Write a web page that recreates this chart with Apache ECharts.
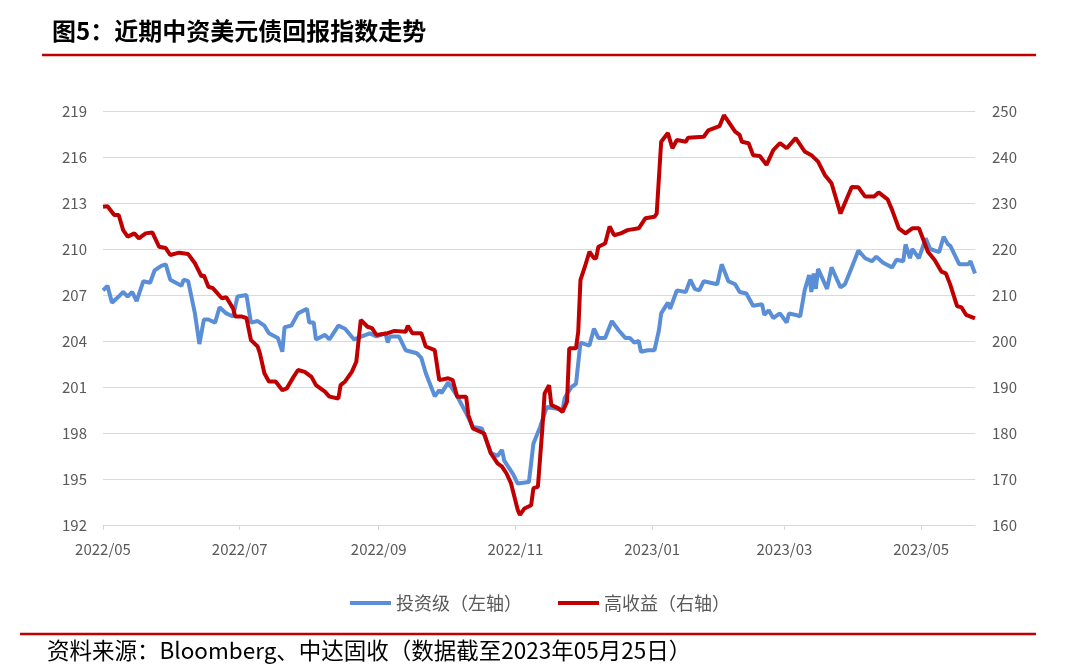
<!DOCTYPE html>
<html>
<head>
<meta charset="utf-8">
<script src="https://cdn.jsdelivr.net/npm/echarts@6/dist/echarts.min.js"></script>
<style>
  html, body { margin: 0; padding: 0; background: #fff; }
  #chart { width: 1080px; height: 668px; }
</style>
</head>
<body>
<div id="chart"></div>
<script>
// ---- Data ----
const titleText = '图5：近期中资美元债回报指数走势';
const sourceText = '资料来源：Bloomberg、中达固收（数据截至2023年05月25日）';
const seriesNames = ['投资级（左轴）', '高收益（右轴）'];
const xTickDates = ['2022-05-01', '2022-07-01', '2022-09-01', '2022-11-01', '2023-01-01', '2023-03-01', '2023-05-01'];
const xMin = '2022-05-01';
const xMax = '2023-05-25';
const leftAxis = { min: 192, max: 219, interval: 3 };
const rightAxis = { min: 160, max: 250, interval: 10 };

// 投资级 (left axis)
const igDates = [
  '2022-05-01','2022-05-03','2022-05-05','2022-05-08','2022-05-10','2022-05-12','2022-05-14','2022-05-16','2022-05-19','2022-05-22',
  '2022-05-24','2022-05-27','2022-05-29','2022-05-31','2022-06-05','2022-06-06','2022-06-08','2022-06-11','2022-06-13','2022-06-15',
  '2022-06-17','2022-06-20','2022-06-22','2022-06-25','2022-06-28','2022-06-30','2022-07-04','2022-07-06','2022-07-09','2022-07-12',
  '2022-07-14','2022-07-18','2022-07-20','2022-07-21','2022-07-24','2022-07-27','2022-07-31','2022-08-01','2022-08-03','2022-08-04',
  '2022-08-08','2022-08-10','2022-08-14','2022-08-17','2022-08-21','2022-08-28','2022-08-31','2022-09-04','2022-09-05','2022-09-06',
  '2022-09-10','2022-09-13','2022-09-18','2022-09-20','2022-09-22','2022-09-26','2022-09-28','2022-09-29','2022-10-02','2022-10-06',
  '2022-10-10','2022-10-13','2022-10-17','2022-10-19','2022-10-21','2022-10-24','2022-10-26','2022-10-27','2022-10-31','2022-11-02',
  '2022-11-07','2022-11-09','2022-11-12','2022-11-15','2022-11-19','2022-11-22','2022-11-23','2022-11-26','2022-11-28','2022-11-30',
  '2022-12-04','2022-12-06','2022-12-08','2022-12-11','2022-12-14','2022-12-17','2022-12-20','2022-12-22','2022-12-24','2022-12-26',
  '2022-12-27','2022-12-30','2023-01-02','2023-01-04','2023-01-05','2023-01-08','2023-01-09','2023-01-12','2023-01-16','2023-01-18',
  '2023-01-20','2023-01-22','2023-01-24','2023-01-30','2023-02-01','2023-02-04','2023-02-07','2023-02-09','2023-02-12','2023-02-15',
  '2023-02-19','2023-02-20','2023-02-22','2023-02-24','2023-02-27','2023-03-02','2023-03-03','2023-03-06','2023-03-08','2023-03-10',
  '2023-03-12','2023-03-13','2023-03-14','2023-03-15','2023-03-16','2023-03-20','2023-03-22','2023-03-26','2023-03-28','2023-03-31',
  '2023-04-03','2023-04-06','2023-04-09','2023-04-11','2023-04-14','2023-04-18','2023-04-20','2023-04-23','2023-04-24','2023-04-26',
  '2023-04-27','2023-04-30','2023-05-03','2023-05-05','2023-05-09','2023-05-11','2023-05-13','2023-05-14','2023-05-18','2023-05-22',
  '2023-05-23','2023-05-25'
];
const igValues = [
  207.3,207.6,206.5,206.9,207.2,206.9,207.2,206.6,207.9,207.8,
  208.6,208.9,209.0,208.0,207.6,208.0,207.9,205.8,203.8,205.4,
  205.4,205.2,206.2,205.8,205.6,206.9,207.0,205.2,205.3,205.0,
  204.5,204.2,203.3,204.9,205.0,205.8,206.1,205.2,205.2,204.1,
  204.4,204.1,205.0,204.8,204.1,204.5,204.3,204.5,203.9,204.3,
  204.3,203.4,203.2,202.9,201.9,200.4,200.8,200.6,201.3,200.4,
  199.3,198.4,198.3,197.5,196.7,196.5,196.9,196.2,195.3,194.7,
  194.8,197.3,198.4,199.7,199.6,199.5,200.3,201.0,201.2,203.9,
  203.7,204.8,204.2,204.2,205.3,204.7,204.2,204.2,203.9,204.0,
  203.3,203.4,203.4,204.7,205.8,206.5,206.1,207.3,207.2,208.0,
  207.4,207.3,207.9,207.7,209.0,207.9,207.7,207.2,207.1,206.3,
  206.4,205.7,206.0,205.5,205.8,205.2,205.8,205.7,205.6,207.3,
  208.3,207.2,208.4,207.4,208.7,207.4,208.8,207.5,207.7,208.8,
  209.9,209.4,209.2,209.5,209.1,208.8,209.3,209.2,210.3,209.4,
  210.0,209.4,210.7,210.0,209.8,210.8,210.3,210.2,209.0,209.0,
  209.2,208.4
];

// 高收益 (right axis)
const hyDates = [
  '2022-05-01','2022-05-03','2022-05-06','2022-05-08','2022-05-10','2022-05-12','2022-05-15','2022-05-17','2022-05-20','2022-05-23',
  '2022-05-26','2022-05-29','2022-05-31','2022-06-04','2022-06-08','2022-06-11','2022-06-14','2022-06-15','2022-06-17','2022-06-19',
  '2022-06-23','2022-06-25','2022-06-28','2022-06-29','2022-07-02','2022-07-04','2022-07-06','2022-07-09','2022-07-10','2022-07-12',
  '2022-07-14','2022-07-17','2022-07-20','2022-07-22','2022-07-25','2022-07-27','2022-07-30','2022-08-02','2022-08-04','2022-08-08',
  '2022-08-10','2022-08-14','2022-08-15','2022-08-17','2022-08-20','2022-08-22','2022-08-24','2022-08-27','2022-08-29','2022-08-31',
  '2022-09-05','2022-09-08','2022-09-13','2022-09-14','2022-09-16','2022-09-20','2022-09-22','2022-09-26','2022-09-28','2022-10-02',
  '2022-10-04','2022-10-06','2022-10-10','2022-10-11','2022-10-13','2022-10-18','2022-10-21','2022-10-24','2022-10-26','2022-10-28',
  '2022-10-30','2022-11-02','2022-11-03','2022-11-05','2022-11-08','2022-11-09','2022-11-11','2022-11-13','2022-11-14','2022-11-16',
  '2022-11-17','2022-11-20','2022-11-22','2022-11-24','2022-11-25','2022-11-28','2022-11-29','2022-11-30','2022-12-02','2022-12-04',
  '2022-12-06','2022-12-07','2022-12-08','2022-12-11','2022-12-13','2022-12-15','2022-12-18','2022-12-21','2022-12-26','2022-12-29',
  '2023-01-02','2023-01-03','2023-01-05','2023-01-08','2023-01-10','2023-01-12','2023-01-16','2023-01-17','2023-01-24','2023-01-26',
  '2023-01-31','2023-02-02','2023-02-04','2023-02-07','2023-02-09','2023-02-10','2023-02-13','2023-02-15','2023-02-18','2023-02-21',
  '2023-02-24','2023-02-27','2023-03-02','2023-03-06','2023-03-10','2023-03-13','2023-03-16','2023-03-19','2023-03-22','2023-03-26',
  '2023-03-31','2023-04-03','2023-04-06','2023-04-10','2023-04-12','2023-04-16','2023-04-18','2023-04-21','2023-04-24','2023-04-27',
  '2023-04-30','2023-05-04','2023-05-07','2023-05-10','2023-05-12','2023-05-14','2023-05-17','2023-05-19','2023-05-21','2023-05-25'
];
const hyValues = [
  229.2,229.3,227.4,227.4,224.1,222.7,223.4,222.3,223.4,223.6,
  220.5,220.2,218.7,219.2,218.9,216.9,214.0,214.3,211.8,211.5,
  209.3,209.5,207.1,205.3,205.3,205.0,200.2,198.8,197.3,193.0,
  191.2,191.2,189.3,189.7,192.2,193.7,193.3,192.2,190.4,189.0,
  187.9,187.5,190.4,191.2,193.3,195.5,204.6,203.1,202.8,201.3,
  201.7,202.2,202.0,203.3,201.7,201.7,198.8,198.0,191.5,191.9,
  191.5,187.9,187.9,183.9,181.0,179.9,175.6,173.4,172.7,171.2,
  169.1,163.3,162.2,163.6,164.3,168.0,168.3,181.0,188.6,190.4,
  186.1,185.4,184.6,186.8,198.4,198.4,202.0,213.3,216.2,219.4,
  218.0,218.0,220.5,221.2,224.9,223.0,223.4,224.1,224.5,226.7,
  227.0,227.7,243.3,245.2,241.9,243.7,243.3,244.2,244.4,245.8,
  246.7,249.1,247.7,245.5,244.8,243.3,243.0,240.4,240.2,238.3,
  241.5,243.0,241.9,244.1,241.2,240.4,239.0,236.1,234.3,227.7,
  233.5,233.4,231.4,231.4,232.3,230.8,228.5,224.5,223.4,224.5,
  224.5,219.4,217.6,215.1,214.7,212.2,207.6,207.3,205.7,204.9
];

// ---- Chart ----
const BLUE = '#5A8ED6';
const RED = '#C00000';
const GREY_TEXT = '#595959';
const FONT = '"Noto Sans CJK SC", "Noto Sans", sans-serif';

function ts(s) {
  const p = s.split('-').map(Number);
  return Date.UTC(p[0], p[1] - 1, p[2]);
}
const tickValues = xTickDates.map(ts);

const chart = echarts.init(document.getElementById('chart'), null, { renderer: 'canvas' });

chart.setOption({
  backgroundColor: '#ffffff',
  animation: false,
  textStyle: { fontFamily: FONT },
  title: {
    text: titleText,
    left: 47,
    top: 14,
    textStyle: { fontSize: 24, fontWeight: 'bold', color: '#000', fontFamily: FONT }
  },
  graphic: [
    { type: 'line', shape: { x1: 42, y1: 55, x2: 1036, y2: 55 }, style: { stroke: RED, lineWidth: 2.5 } },
    { type: 'line', shape: { x1: 20, y1: 634, x2: 1036, y2: 634 }, style: { stroke: RED, lineWidth: 2.5 } },
    { type: 'text', left: 47, top: 639, style: { text: sourceText, font: '22.5px ' + FONT, fill: '#000' } }
  ],
  legend: {
    data: seriesNames,
    left: 'center',
    top: 589,
    icon: 'rect',
    itemWidth: 41,
    itemHeight: 4,
    itemGap: 36,
    textStyle: { fontSize: 18, color: GREY_TEXT, fontFamily: FONT }
  },
  grid: { left: 103, right: 105, top: 111, bottom: 143, containLabel: false },
  xAxis: {
    type: 'value',
    min: ts(xMin),
    max: ts(xMax),
    axisLine: { show: true, lineStyle: { color: '#d9d9d9', width: 1 } },
    axisTick: { show: true, customValues: tickValues, length: 5, lineStyle: { color: '#d9d9d9' } },
    axisLabel: {
      customValues: tickValues,
      showMinLabel: true,
      showMaxLabel: true,
      hideOverlap: false,
      fontSize: 15,
      color: GREY_TEXT,
      margin: 17,
      formatter: function (v) {
        const d = new Date(v);
        const m = d.getUTCMonth() + 1;
        return d.getUTCFullYear() + '/' + (m < 10 ? '0' + m : m);
      }
    },
    splitLine: { show: false }
  },
  yAxis: [
    {
      type: 'value',
      min: leftAxis.min, max: leftAxis.max, interval: leftAxis.interval,
      axisLine: { show: false }, axisTick: { show: false },
      axisLabel: { fontSize: 15, color: GREY_TEXT, margin: 16 },
      splitLine: { show: true, lineStyle: { color: '#d9d9d9', width: 1 } }
    },
    {
      type: 'value',
      min: rightAxis.min, max: rightAxis.max, interval: rightAxis.interval,
      axisLine: { show: false }, axisTick: { show: false },
      axisLabel: { fontSize: 15, color: GREY_TEXT, margin: 17 },
      splitLine: { show: false }
    }
  ],
  series: [
    {
      name: seriesNames[0],
      type: 'line',
      yAxisIndex: 0,
      showSymbol: false,
      symbol: 'none',
      lineStyle: { color: BLUE, width: 4 },
      itemStyle: { color: BLUE },
      z: 2,
      data: igDates.map((d, i) => [ts(d), igValues[i]])
    },
    {
      name: seriesNames[1],
      type: 'line',
      yAxisIndex: 1,
      showSymbol: false,
      symbol: 'none',
      lineStyle: { color: RED, width: 4 },
      itemStyle: { color: RED },
      z: 3,
      data: hyDates.map((d, i) => [ts(d), hyValues[i]])
    }
  ]
});
</script>
</body>
</html>
